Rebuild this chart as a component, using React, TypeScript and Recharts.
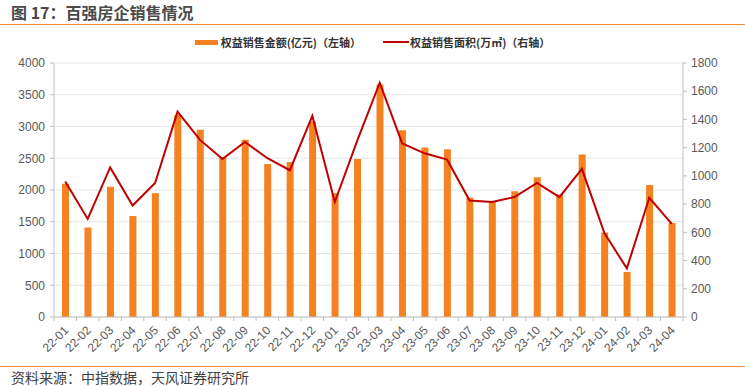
import React from 'react';
import {
  ComposedChart,
  Bar,
  Line,
  XAxis,
  YAxis,
  CartesianGrid,
  Legend,
} from 'recharts';

const months: string[] = [
  '22-01', '22-02', '22-03', '22-04', '22-05', '22-06', '22-07', '22-08', '22-09', '22-10', '22-11', '22-12',
  '23-01', '23-02', '23-03', '23-04', '23-05', '23-06', '23-07', '23-08', '23-09', '23-10', '23-11', '23-12',
  '24-01', '24-02', '24-03', '24-04',
];

const salesAmount: number[] = [
  2100, 1410, 2050, 1590, 1950, 3180, 2950, 2520, 2790, 2410, 2440, 3080,
  1950, 2490, 3660, 2940, 2670, 2640, 1880, 1810, 1980, 2200, 1930, 2560,
  1330, 710, 2080, 1480,
];

const salesArea: number[] = [
  960, 695, 1060, 790, 950, 1455, 1255, 1120, 1240, 1125, 1040, 1425,
  815, 1250, 1660, 1230, 1160, 1115, 825, 815, 850, 950, 850, 1050,
  595, 345, 845, 660,
];

const leftTicks: number[] = [0, 500, 1000, 1500, 2000, 2500, 3000, 3500, 4000];
const rightTicks: number[] = [0, 200, 400, 600, 800, 1000, 1200, 1400, 1600, 1800];

const seriesNames = {
  amount: '权益销售金额(亿元)（左轴）',
  area: '权益销售面积(万㎡)（右轴）',
};

const data = months.map((m, i) => ({
  month: m,
  amount: salesAmount[i],
  area: salesArea[i],
}));

const W = 745;
const CHART_H = 360;
const LEFT_W = 54;
const RIGHT_W = 62;
const TOP = 63;
const X_H = 43;
const PLOT_W = W - LEFT_W - RIGHT_W;
const BAND = PLOT_W / months.length;

const ORANGE = '#F58220';
const RED = '#C00000';
const AXIS = '#BFBFBF';
const TICK_TEXT = '#595959';
const NUM_FONT = '"Liberation Sans", Arial, sans-serif';
const CJK_FONT = '"Noto Sans CJK SC", "Noto Sans", sans-serif';

const XTick = (props: any) => {
  const { x, y, payload, index } = props;
  const isLast = index === months.length - 1;
  return (
    <g>
      <line x1={x - BAND / 2} y1={y} x2={x - BAND / 2} y2={y + 4} stroke={AXIS} />
      {isLast && <line x1={x + BAND / 2} y1={y} x2={x + BAND / 2} y2={y + 4} stroke={AXIS} />}
      <text
        x={x + 1}
        y={y + 11}
        dy="0.35em"
        textAnchor="end"
        transform={`rotate(-45, ${x + 1}, ${y + 11})`}
        fill={TICK_TEXT}
        fontSize={12}
        fontFamily={NUM_FONT}
      >
        {payload.value}
      </text>
    </g>
  );
};

const LegendContent = () => (
  <div
    style={{
      display: 'flex',
      justifyContent: 'center',
      alignItems: 'center',
      fontFamily: CJK_FONT,
      fontSize: 11,
      fontWeight: 700,
      color: '#333333',
      whiteSpace: 'nowrap',
    }}
  >
    <span style={{ display: 'inline-block', width: 23, height: 5, background: ORANGE, marginRight: 3 }} />
    <span>{seriesNames.amount}</span>
    <span style={{ display: 'inline-block', width: 26, height: 2, background: RED, marginLeft: 22, marginRight: 1 }} />
    <span>{seriesNames.area}</span>
  </div>
);

export default function App() {
  return (
    <div style={{ position: 'absolute', left: 0, top: 0, width: W, height: 386, background: '#fff', overflow: 'hidden' }}>
      <div
        style={{
          position: 'absolute',
          left: 11,
          top: 1,
          fontFamily: CJK_FONT,
          fontSize: 16,
          fontWeight: 700,
          color: '#4A4A4A',
          whiteSpace: 'nowrap',
          lineHeight: '22px',
        }}
      >
        图 17：百强房企销售情况
      </div>
      <div style={{ position: 'absolute', left: 0, top: 23.5, width: W, height: 1.5, background: '#F08A2C' }} />
      <div style={{ position: 'absolute', left: 0, top: 0 }}>
        <ComposedChart
          width={W}
          height={CHART_H}
          data={data}
          margin={{ top: TOP, right: 0, bottom: 0, left: 0 }}
        >
          <CartesianGrid yAxisId="left" vertical={false} stroke="#E6E6E6" />
          <XAxis
            dataKey="month"
            height={X_H}
            interval={0}
            tickLine={false}
            tickSize={0}
            tickMargin={0}
            axisLine={{ stroke: AXIS }}
            tick={<XTick />}
          />
          <YAxis
            yAxisId="left"
            orientation="left"
            width={LEFT_W}
            domain={[0, 4000]}
            ticks={leftTicks}
            interval={0}
            tickSize={4}
            tickMargin={5}
            axisLine={{ stroke: AXIS }}
            tickLine={{ stroke: AXIS }}
            tick={{ fill: TICK_TEXT, fontSize: 12, fontFamily: NUM_FONT }}
          />
          <YAxis
            yAxisId="right"
            orientation="right"
            width={RIGHT_W}
            domain={[0, 1800]}
            ticks={rightTicks}
            interval={0}
            tickSize={4}
            tickMargin={4}
            axisLine={{ stroke: AXIS }}
            tickLine={{ stroke: AXIS }}
            tick={{ fill: TICK_TEXT, fontSize: 12, fontFamily: NUM_FONT }}
          />
          <Legend
            verticalAlign="middle"
            layout="horizontal"
            wrapperStyle={{ top: 34, left: 0, width: W }}
            content={<LegendContent />}
          />
          <Bar
            yAxisId="left"
            dataKey="amount"
            name={seriesNames.amount}
            fill={ORANGE}
            barSize={7}
            isAnimationActive={false}
          />
          <Line
            yAxisId="right"
            type="linear"
            dataKey="area"
            name={seriesNames.area}
            stroke={RED}
            strokeWidth={2}
            dot={false}
            activeDot={false}
            isAnimationActive={false}
          />
        </ComposedChart>
      </div>
      <div style={{ position: 'absolute', left: 0, top: 365.5, width: W, height: 1.5, background: '#F08A2C' }} />
      <div
        style={{
          position: 'absolute',
          left: 11,
          top: 367,
          fontFamily: CJK_FONT,
          fontSize: 14,
          color: '#404040',
          whiteSpace: 'nowrap',
          lineHeight: '20px',
        }}
      >
        资料来源：中指数据，天风证券研究所
      </div>
    </div>
  );
}
